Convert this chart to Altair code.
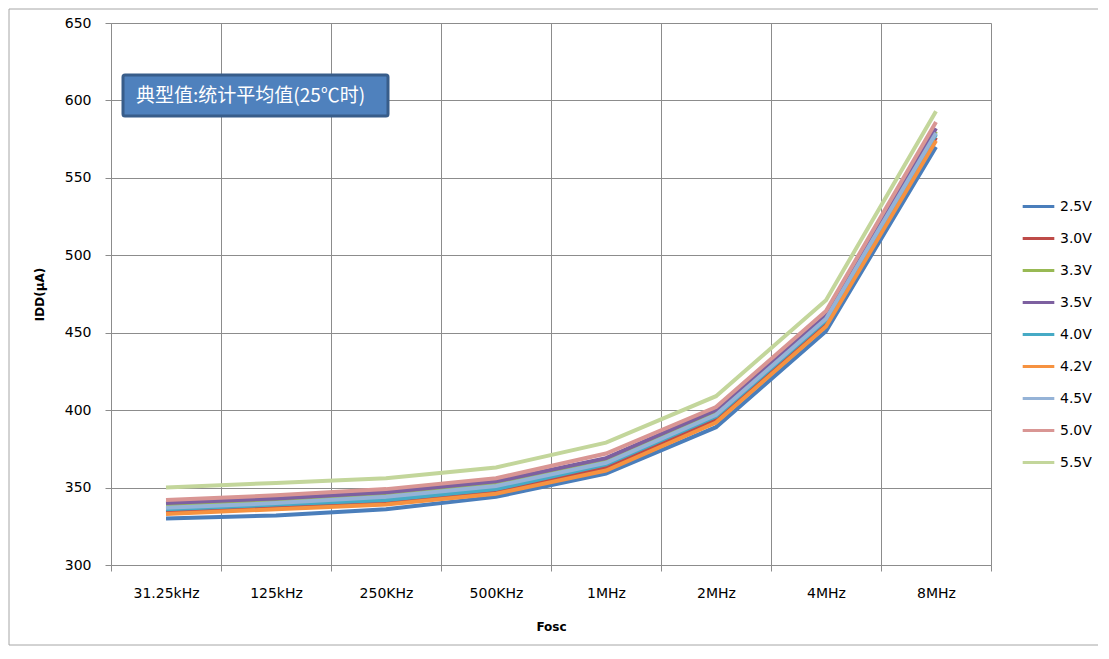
import altair as alt
import pandas as pd

freqs = ["31.25kHz", "125kHz", "250KHz", "500KHz", "1MHz", "2MHz", "4MHz", "8MHz"]
voltages = ["2.5V", "3.0V", "3.3V", "3.5V", "4.0V", "4.2V", "4.5V", "5.0V", "5.5V"]
colors = ["#4A7EBB", "#BE4B48", "#98B954", "#7D60A0", "#46AAC5", "#F69240", "#95B3D7", "#D99694", "#C3D69B"]

v25 = [330, 332, 336, 344, 359, 389, 451, 570]
v30 = [334, 337, 340, 347, 363, 394, 456, 576]
v33 = [339, 342, 345, 352, 368, 398, 460, 580]
v35 = [340, 343, 347, 354, 369, 400, 461, 582]
v40 = [336, 339, 342, 349, 365, 396, 458, 578]
v42 = [333, 336, 339, 346, 361, 392, 454, 574]
v45 = [337, 340, 344, 351, 366, 397, 459, 579]
v50 = [342, 345, 349, 356, 372, 402, 464, 586]
v55 = [350, 353, 356, 363, 379, 409, 471, 593]
series = [v25, v30, v33, v35, v40, v42, v45, v50, v55]

rows = []
for i, (v, vals) in enumerate(zip(voltages, series)):
    for f, y in zip(freqs, vals):
        rows.append({"Fosc": f, "IDD": y, "V": v, "order": i})
df = pd.DataFrame(rows)

FONT = "DejaVu Sans"
GRID = "#8c8c8c"

lines = alt.Chart(df).mark_line(strokeWidth=4, clip=False).encode(
    x=alt.X("Fosc:N", sort=freqs, bandPosition=0.5,
            scale=alt.Scale(type="band", paddingInner=0, paddingOuter=0),
            axis=alt.Axis(title="Fosc", tickBand="extent", labelAngle=0, grid=True,
                          gridColor=GRID, domainColor=GRID, tickColor=GRID,
                          tickSize=6, labelPadding=15, titlePadding=21,
                          labelFont=FONT, labelFontSize=14, labelColor="#000",
                          titleFont=FONT, titleFontSize=12, titleFontWeight="bold",
                          titleColor="#000")),
    y=alt.Y("IDD:Q", scale=alt.Scale(domain=[300, 650], nice=False, zero=False),
            axis=alt.Axis(title="IDD(μA)", values=[300, 350, 400, 450, 500, 550, 600, 650],
                          grid=True, gridColor=GRID, domainColor=GRID, tickColor=GRID,
                          tickSize=6, labelPadding=14, titlePadding=18,
                          labelFont=FONT, labelFontSize=14, labelColor="#000",
                          titleFont=FONT, titleFontSize=12, titleFontWeight="bold",
                          titleColor="#000")),
    color=alt.Color("V:N", sort=voltages,
                    scale=alt.Scale(domain=voltages, range=colors),
                    legend=alt.Legend(title=None, orient="none", legendX=910, legendY=166,
                                      symbolType="stroke", symbolSize=1000,
                                      symbolStrokeWidth=3, labelFont=FONT,
                                      labelFontSize=14, labelColor="#000",
                                      rowPadding=7, labelOffset=4, padding=0)),
    order=alt.Order("order:Q"),
)

box_df = pd.DataFrame({"t": ["典型值:统计平均值(25℃时)"]})
box = alt.Chart(box_df).mark_rect(fill="#4F81BD", stroke="#385D8A", strokeWidth=3,
                                   cornerRadius=2).encode(
    x=alt.value(12), x2=alt.value(277), y=alt.value(52), y2=alt.value(93))
box_text = alt.Chart(box_df).mark_text(color="white", font="Noto Sans CJK SC", fontSize=19,
                                       align="left", baseline="middle").encode(
    x=alt.value(25), y=alt.value(73), text="t:N")

border = alt.Chart(box_df).mark_rect(fill=None, stroke="#a6a6a6", strokeWidth=1, clip=False).encode(
    x=alt.value(-102), x2=alt.value(993), y=alt.value(-14), y2=alt.value(622))

chart = alt.layer(border, lines, box, box_text).properties(
    width=880, height=542,
    autosize=alt.AutoSizeParams(type="none"),
    padding={"left": 103, "top": 15, "right": 107, "bottom": 83},
).configure_view(stroke=GRID, strokeWidth=1).configure(background="white")

chart.save("out.html", embed_options={"renderer": "svg", "actions": False})
